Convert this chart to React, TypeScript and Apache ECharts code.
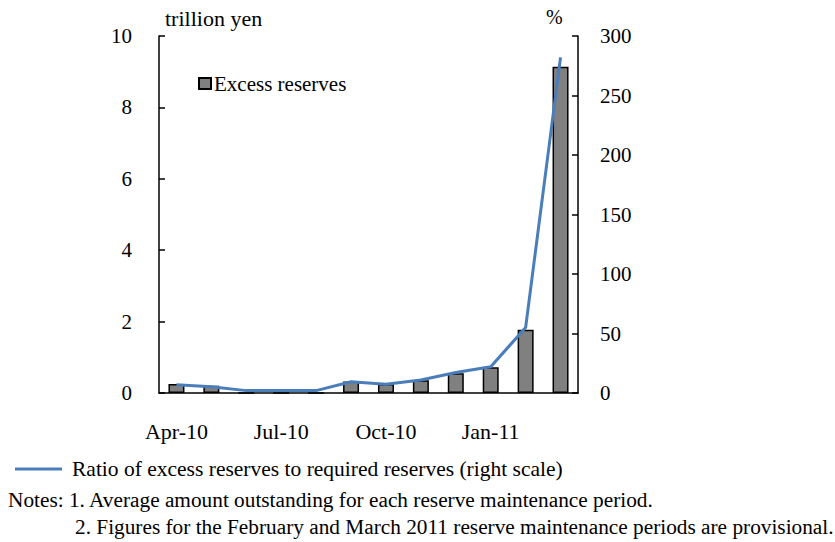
import React, { useEffect, useRef } from "react";
import * as echarts from "echarts";

const categories = ["Apr-10", "May-10", "Jun-10", "Jul-10", "Aug-10", "Sep-10", "Oct-10", "Nov-10", "Dec-10", "Jan-11", "Feb-11", "Mar-11"];
const excessReserves = [0.25, 0.2, 0, 0, 0, 0.32, 0.25, 0.36, 0.55, 0.72, 1.77, 9.14];
const ratioPct = [7, 5.3, 2, 2, 2, 9.5, 7.3, 10.9, 17.3, 22, 55, 282];
const leftTicks = { min: 0, max: 10, interval: 2 };
const rightTicks = { min: 0, max: 300, interval: 50 };
const leftUnit = "trillion yen";
const rightUnit = "%";
const notes = [
  "Notes: 1. Average amount outstanding for each reserve maintenance period.",
  "2. Figures for the February and March 2011 reserve maintenance periods are provisional.",
];

const FONT = "Liberation Serif";

export default function App() {
  const ref = useRef<HTMLDivElement>(null);
  useEffect(() => {
    if (!ref.current) return;
    const chart = echarts.init(ref.current, undefined, { renderer: "svg" });
    const txt = { fontFamily: FONT, fontSize: 21, color: "#000" };
    const axisLineStyle = { color: "#000", width: 1.5 };
    chart.setOption({
      animation: false,
      backgroundColor: "#fff",
      textStyle: { fontFamily: FONT },
      grid: { left: 159, right: 257, top: 36, bottom: 149, containLabel: false },
      legend: [
        {
          data: ["Excess reserves"],
          left: 198,
          top: 73,
          padding: 0,
          itemWidth: 12,
          itemHeight: 11,
          itemGap: 4,
          textStyle: { ...txt, padding: [0, 0, 0, -2] },
          icon: "rect",
        },
        {
          data: ["Ratio of excess reserves to required reserves (right scale)"],
          left: 15,
          top: 458,
          padding: 0,
          itemWidth: 47,
          itemHeight: 3,
          icon: "rect",
          textStyle: { ...txt, fontSize: 21.5, padding: [0, 0, 0, 5] },
        },
      ],
      xAxis: {
        type: "category",
        data: categories,
        boundaryGap: true,
        axisLine: { lineStyle: axisLineStyle },
        axisTick: { interval: 2, length: 6, inside: false, lineStyle: axisLineStyle },
        axisLabel: { interval: 2, margin: 27, ...txt, fontSize: 22 },
        splitLine: { show: false },
      },
      yAxis: [
        {
          type: "value",
          ...leftTicks,
          position: "left",
          axisLine: { show: true, lineStyle: axisLineStyle },
          axisTick: { show: true, inside: true, length: 6, lineStyle: axisLineStyle },
          axisLabel: { margin: 27, ...txt },
          splitLine: { show: false },
        },
        {
          type: "value",
          ...rightTicks,
          position: "right",
          axisLine: { show: true, lineStyle: axisLineStyle },
          axisTick: { show: true, inside: true, length: 6, lineStyle: axisLineStyle },
          axisLabel: { margin: 22, ...txt },
          splitLine: { show: false },
        },
      ],
      series: [
        {
          name: "Excess reserves",
          type: "bar",
          yAxisIndex: 0,
          data: excessReserves,
          barWidth: 16,
          itemStyle: { color: "#808080", borderColor: "#000", borderWidth: 1.5 },
        },
        {
          name: "Ratio of excess reserves to required reserves (right scale)",
          type: "line",
          yAxisIndex: 1,
          data: ratioPct,
          symbol: "none",
          lineStyle: { color: "#4a7ebb", width: 3 },
          itemStyle: { color: "#4a7ebb" },
        },
      ],
      graphic: [
        { type: "text", left: 165, top: 7, style: { text: leftUnit, fontFamily: FONT, fontSize: 22, fill: "#000" } },
        { type: "text", left: 546, top: 7, style: { text: rightUnit, fontFamily: FONT, fontSize: 20, fill: "#000" } },
        { type: "text", left: 8, top: 489, style: { text: notes[0], fontFamily: FONT, fontSize: 21.3, fill: "#000" } },
        { type: "text", left: 75, top: 516, style: { text: notes[1], fontFamily: FONT, fontSize: 21.3, fill: "#000" } },
      ],
    });
    return () => chart.dispose();
  }, []);
  return <div ref={ref} style={{ position: "fixed", left: 0, top: 0, width: 835, height: 542 }} />;
}
